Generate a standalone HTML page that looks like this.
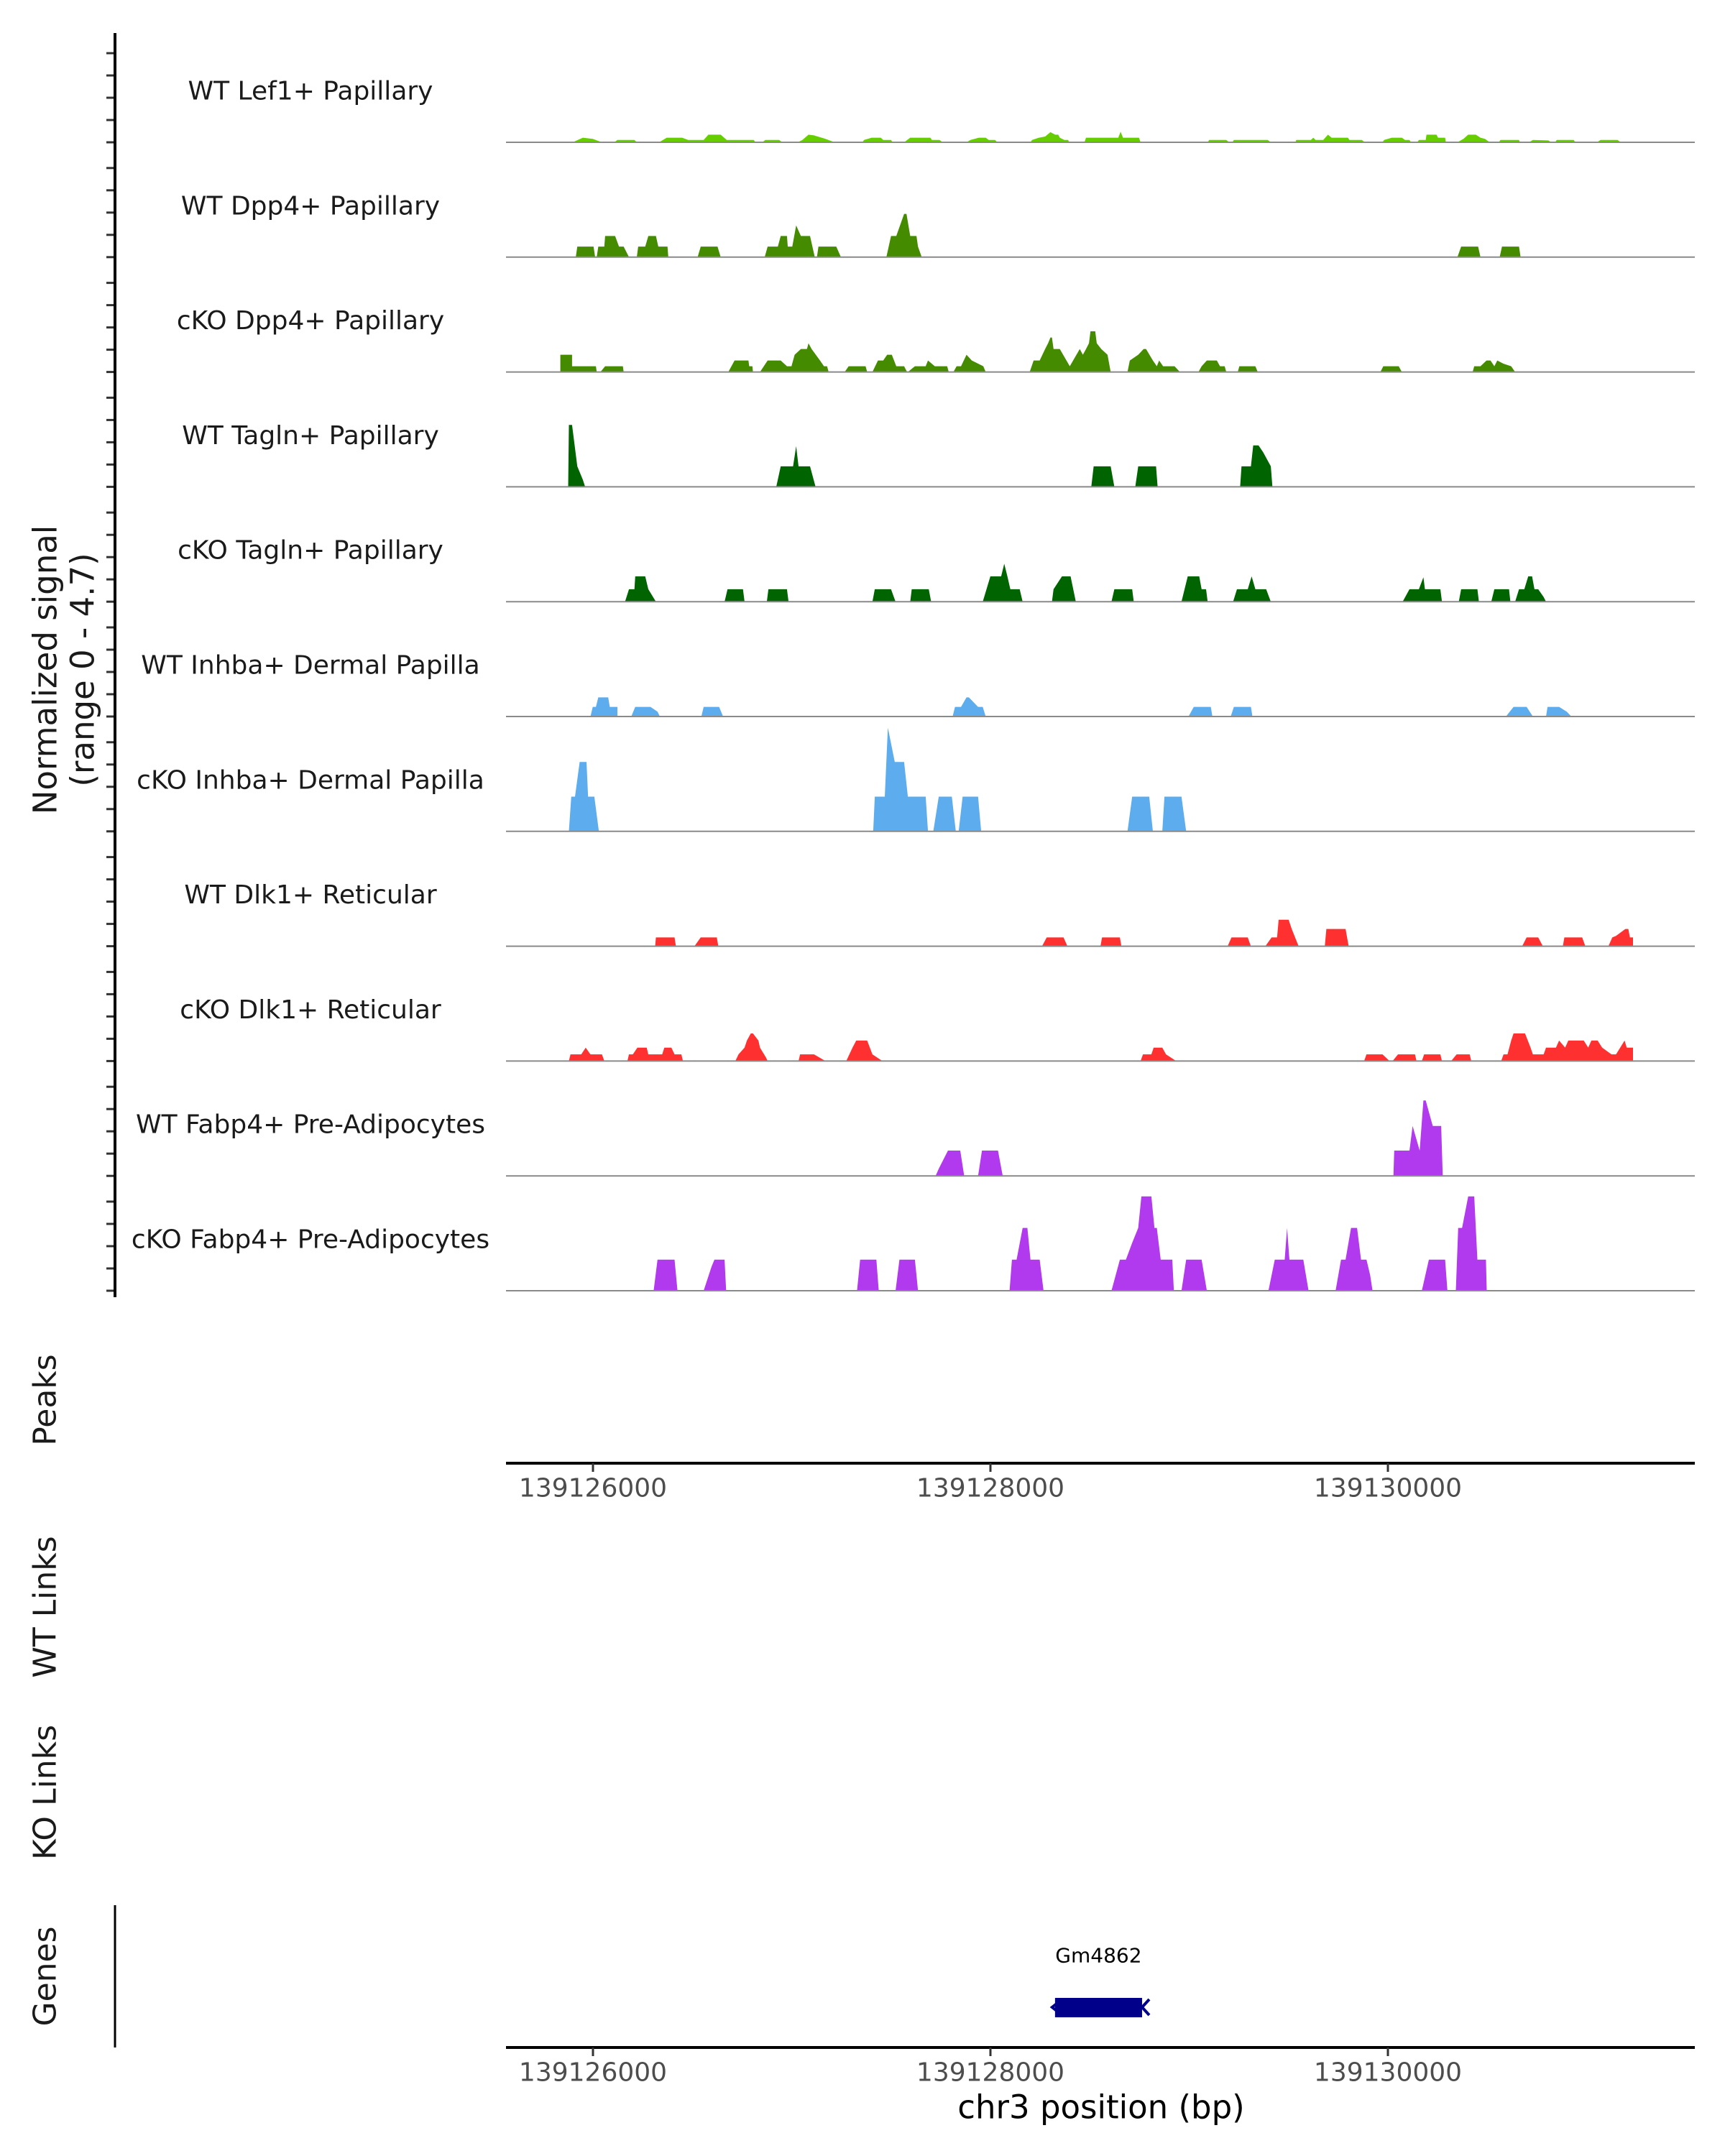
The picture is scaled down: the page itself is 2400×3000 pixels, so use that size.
<!DOCTYPE html>
<html><head><meta charset="utf-8"><style>
html,body{margin:0;padding:0;background:#fff;}
svg{display:block;font-family:"DejaVu Sans","Liberation Sans",sans-serif;}
</style></head><body>
<svg id="chart" width="2400" height="3000" viewBox="0 0 2400 3000" xmlns="http://www.w3.org/2000/svg">
<g id="tracks"></g>
<g id="axes"></g>
<text transform="translate(63,932) rotate(-90)" text-anchor="middle" dominant-baseline="central" font-size="45" fill="#1a1a1a">Normalized signal</text>
<text transform="translate(115,932) rotate(-90)" text-anchor="middle" dominant-baseline="central" font-size="45" fill="#1a1a1a">(range 0 - 4.7)</text>
<text transform="translate(63,1948) rotate(-90)" text-anchor="middle" dominant-baseline="central" font-size="44" fill="#1a1a1a">Peaks</text>
<text transform="translate(63,2236) rotate(-90)" text-anchor="middle" dominant-baseline="central" font-size="44" fill="#1a1a1a">WT Links</text>
<text transform="translate(63,2494) rotate(-90)" text-anchor="middle" dominant-baseline="central" font-size="44" fill="#1a1a1a">KO Links</text>
<text transform="translate(63,2750) rotate(-90)" text-anchor="middle" dominant-baseline="central" font-size="44" fill="#1a1a1a">Genes</text>
<text x="1532" y="2932" text-anchor="middle" dominant-baseline="central" font-size="45" fill="#000">chr3 position (bp)</text>
</svg>
<script>
const trackNames = ["WT Lef1+ Papillary","WT Dpp4+ Papillary","cKO Dpp4+ Papillary","WT Tagln+ Papillary","cKO Tagln+ Papillary","WT Inhba+ Dermal Papilla","cKO Inhba+ Dermal Papilla","WT Dlk1+ Reticular","cKO Dlk1+ Reticular","WT Fabp4+ Pre-Adipocytes","cKO Fabp4+ Pre-Adipocytes"];
const trackColors = ["#66CD00","#458B00","#458B00","#006400","#006400","#5CACEE","#5CACEE","#FF3030","#FF3030","#B23AEE","#B23AEE"];
const xTicks = [139126000,139128000,139130000];
const xTickLabels = ["139126000","139128000","139130000"];
const geneName = "Gm4862";
const geneStart = 139128325;
const geneEnd = 139128763;

const t1Pos=[139125898,139125950,139126001,139126048,139126111,139126127,139126214,139126226,139126340,139126379,139126458,139126489,139126568,139126592,139126655,139126686,139126824,139126832,139126868,139126883,139126954,139126970,139127049,139127073,139127104,139127132,139127191,139127238,139127380,139127388,139127427,139127474,139127486,139127526,139127534,139127593,139127624,139127727,139127735,139127774,139127790,139127912,139127932,139127975,139128010,139128026,139128058,139128069,139128239,139128247,139128282,139128314,139128341,139128365,139128381,139128389,139128412,139128432,139128436,139128515,139128523,139128688,139128700,139128712,139128794,139128802,139129145,139129153,139129240,139129255,139129271,139129279,139129452,139129468,139129594,139129598,139129673,139129685,139129697,139129736,139129760,139129779,139129862,139129870,139129933,139129949,139130039,139130047,139130087,139130138,139130154,139130177,139130185,139130217,139130225,139130260,139130264,139130315,139130323,139130359,139130363,139130422,139130453,139130477,139130516,139130540,139130563,139130587,139130634,139130642,139130737,139130741,139130788,139130808,139130887,139130902,139130922,139130930,139131017,139131024,139131135,139131154,139131241,139131257];
const t1Val=[0,.2,.15,0,0,.1,.1,0,0,.2,.2,.1,.1,.33,.33,.1,.1,0,0,.1,.1,0,0,.1,.33,.3,.15,0,0,.1,.2,.2,.1,.1,0,0,.2,.2,.1,.1,0,0,.1,.2,.2,.1,.1,0,0,.1,.2,.25,.44,.33,.33,.2,.1,.1,0,0,.2,.2,.46,.2,.2,0,0,.1,.1,0,0,.1,.1,0,0,.1,.1,.2,.1,.1,.33,.2,.2,.1,.1,0,0,.1,.2,.2,.1,.1,0,0,.1,.1,.33,.33,.2,.2,0,0,.15,.33,.33,.2,.15,0,0,.1,.1,0,0,.1,.08,0,0,.1,.1,0,0,.1,.1,0];

const t2Pos=[139125914,139125922,139126005,139126013,139126021,139126029,139126060,139126064,139126115,139126135,139126159,139126186,139126226,139126233,139126269,139126285,139126324,139126336,139126383,139126387,139126537,139126553,139126639,139126655,139126880,139126895,139126947,139126962,139126994,139126998,139127021,139127041,139127065,139127112,139127136,139127147,139127155,139127246,139127270,139127502,139127526,139127553,139127593,139127605,139127624,139127656,139127664,139127683,139130422,139130441,139130528,139130540,139130638,139130650,139130737,139130745];
const t2Val=[0,.46,.46,0,0,.46,.46,.92,.92,.46,.46,0,0,.46,.46,.92,.92,.46,.46,0,0,.46,.46,0,0,.46,.46,.92,.92,.46,.46,1.38,.92,.92,0,0,.46,.46,0,0,.92,.92,1.88,1.88,.92,.92,.46,0,0,.46,.46,0,0,.46,.46,0];

const t3Pos=[139125835,139125835,139125895,139125895,139126017,139126021,139126040,139126064,139126155,139126159,139126694,139126726,139126797,139126801,139126817,139126820,139126856,139126895,139126962,139126994,139127017,139127033,139127065,139127096,139127104,139127120,139127163,139127183,139127199,139127207,139127289,139127309,139127396,139127404,139127431,139127459,139127486,139127506,139127530,139127553,139127593,139127608,139127612,139127648,139127703,139127715,139127750,139127813,139127821,139127845,139127861,139127884,139127912,139127939,139127998,139128010,139128235,139128255,139128286,139128314,139128329,139128341,139128349,139128357,139128389,139128440,139128491,139128507,139128523,139128538,139128546,139128570,139128578,139128601,139128633,139128649,139128735,139128747,139128790,139128818,139128830,139128865,139128885,139128897,139128917,139128976,139129003,139129098,139129114,139129141,139129192,139129208,139129232,139129240,139129299,139129307,139129389,139129401,139130028,139130043,139130122,139130138,139130500,139130508,139130540,139130571,139130591,139130611,139130626,139130658,139130697,139130717];
const t3Val=[0,.75,.75,.25,.25,0,0,.25,.25,0,0,.5,.5,.25,.25,0,0,.5,.5,.25,.25,.75,1,1,1.25,1,.5,.25,.25,0,0,.25,.25,0,0,.5,.5,.75,.75,.25,.25,0,0,.25,.25,.5,.25,.25,0,0,.25,.25,.75,.5,.25,0,0,.5,.5,1,1.25,1.5,1.5,1,1,.25,1,.75,1,1.25,1.77,1.77,1.25,1,.75,0,0,.5,.75,1,1,.5,.25,.5,.25,.25,0,0,.25,.5,.5,.25,.25,0,0,.25,.25,0,0,.25,.25,0,0,.25,.25,.5,.5,.25,.5,.36,.25,0];

const t4Pos=[139125875,139125879,139125895,139125922,139125950,139125962,139126939,139126962,139127025,139127041,139127053,139127112,139127140,139128550,139128562,139128649,139128668,139128775,139128790,139128881,139128889,139129311,139129318,139129366,139129378,139129405,139129429,139129468,139129476];
const t4Val=[0,2.69,2.69,.89,.31,0,0,.89,.89,1.77,.89,.89,0,0,.89,.89,0,0,.89,.89,0,0,.89,.89,1.8,1.8,1.5,.89,0];

const t5Pos=[139126166,139126186,139126214,139126218,139126269,139126285,139126324,139126675,139126690,139126769,139126777,139126891,139126899,139126994,139127002,139127431,139127443,139127526,139127549,139127624,139127632,139127719,139127731,139127995,139128034,139128089,139128105,139128121,139128136,139128184,139128199,139128349,139128357,139128400,139128444,139128471,139128653,139128668,139128759,139128767,139129011,139129043,139129102,139129114,139129137,139129145,139129275,139129295,139129350,139129370,139129389,139129444,139129468,139130142,139130177,139130225,139130248,139130256,139130335,139130343,139130429,139130441,139130524,139130532,139130595,139130611,139130686,139130693,139130717,139130737,139130764,139130784,139130804,139130816,139130835,139130863,139130875];
const t5Val=[0,.54,.54,1.1,1.1,.54,0,0,.54,.54,0,0,.54,.54,0,0,.54,.54,0,0,.54,.54,0,0,1.1,1.1,1.65,1.1,.54,.54,0,0,.54,1.1,1.1,0,0,.54,.54,0,0,1.1,1.1,.54,.54,0,0,.54,.54,1.1,.54,.54,0,0,.54,.54,1.06,.54,.54,0,0,.54,.54,0,0,.54,.54,0,0,.54,.54,1.1,1.1,.54,.54,.2,0];

const t6Pos=[139125989,139126001,139126017,139126029,139126080,139126088,139126127,139126127,139126198,139126218,139126296,139126332,139126344,139126556,139126568,139126647,139126667,139127841,139127853,139127884,139127912,139127924,139127971,139127995,139128010,139129047,139129074,139129161,139129169,139129263,139129279,139129366,139129374,139130670,139130709,139130776,139130808,139130875,139130883,139130942,139130981,139131005];
const t6Val=[0,.42,.42,.83,.83,.42,.42,0,0,.42,.42,.21,0,0,.42,.42,0,0,.42,.42,.83,.83,.42,.42,0,0,.42,.42,0,0,.42,.42,0,0,.42,.42,0,0,.42,.42,.21,0];

const t7Pos=[139125879,139125891,139125910,139125934,139125969,139125977,139126009,139126032,139127435,139127443,139127494,139127510,139127545,139127593,139127612,139127703,139127715,139127742,139127770,139127837,139127857,139127872,139127892,139127971,139127987,139128735,139128759,139128846,139128865,139128913,139128924,139129011,139129035];
const t7Val=[0,1.51,1.51,3.02,3.02,1.51,1.51,0,0,1.51,1.51,4.51,3.02,3.02,1.51,1.51,0,0,1.51,1.51,0,0,1.51,1.51,0,0,1.51,1.51,0,0,1.51,1.51,0];

const t8Pos=[139126320,139126324,139126419,139126426,139126521,139126553,139126635,139126643,139128298,139128322,139128408,139128428,139128597,139128605,139128696,139128704,139129247,139129267,139129350,139129366,139129440,139129472,139129500,139129508,139129559,139129575,139129610,139129744,139129752,139129850,139129866,139130753,139130776,139130835,139130859,139130961,139130969,139131060,139131076,139131194,139131214,139131233,139131281,139131296,139131304,139131320,139131320];
const t8Val=[0,.38,.38,0,0,.38,.38,0,0,.38,.38,0,0,.38,.38,0,0,.38,.38,0,0,.38,.38,1.15,1.15,.75,0,0,.75,.75,0,0,.38,.38,0,0,.38,.38,0,0,.38,.45,.75,.75,.38,.38,0];

const t9Pos=[139125879,139125887,139125942,139125965,139125989,139126048,139126060,139126178,139126186,139126206,139126229,139126277,139126285,139126356,139126367,139126403,139126419,139126454,139126462,139126730,139126746,139126777,139126789,139126809,139126820,139126848,139126856,139126887,139126895,139127053,139127061,139127132,139127191,139127297,139127329,139127348,139127404,139127431,139127482,139128802,139128814,139128857,139128869,139128913,139128932,139128984,139129945,139129957,139130039,139130075,139130091,139130118,139130205,139130213,139130240,139130252,139130335,139130343,139130390,139130418,139130485,139130493,139130646,139130658,139130678,139130697,139130709,139130768,139130796,139130808,139130863,139130875,139130926,139130942,139130973,139130989,139131068,139131091,139131107,139131139,139131162,139131210,139131233,139131277,139131288,139131320,139131320];
const t9Val=[0,.29,.29,.58,.29,.29,0,0,.29,.29,.58,.58,.29,.29,.58,.58,.29,.29,0,0,.29,.58,.89,1.2,1.2,.89,.58,.15,0,0,.29,.29,0,0,.58,.89,.89,.29,0,0,.29,.29,.58,.58,.29,0,0,.29,.29,0,0,.29,.29,0,0,.29,.29,0,0,.29,.29,0,0,.29,.29,.89,1.2,1.2,.58,.29,.29,.58,.58,.89,.58,.89,.89,.58,.89,.89,.58,.29,.29,.89,.58,.58,0];

const t10Pos=[139127754,139127770,139127817,139127880,139127900,139127971,139127991,139128073,139128097,139130095,139130099,139130177,139130193,139130229,139130248,139130260,139130296,139130339,139130347];
const t10Val=[0,.31,1.1,1.1,0,0,1.1,1.1,0,0,1.1,1.1,2.17,1.1,3.28,3.28,2.17,2.17,0];

const t11Pos=[139126312,139126332,139126419,139126434,139126568,139126608,139126623,139126675,139126683,139127352,139127368,139127451,139127463,139127549,139127569,139127648,139127656,139127664,139128132,139128144,139128168,139128199,139128223,139128239,139128286,139128306,139128653,139128696,139128727,139128759,139128790,139128806,139128857,139128873,139128885,139128905,139128964,139128972,139129011,139129035,139129114,139129141,139129456,139129488,139129539,139129551,139129563,139129634,139129661,139129799,139129827,139129850,139129878,139129909,139129929,139129957,139129976,139129988,139130240,139130276,139130359,139130371,139130414,139130426,139130446,139130477,139130508,139130524,139130568,139130572];
const t11Val=[0,1.35,1.35,0,0,1.04,1.35,1.35,0,0,1.35,1.35,0,0,1.35,1.35,.68,0,0,1.35,1.35,2.73,2.73,1.35,1.35,0,0,1.35,1.35,2.08,2.73,4.1,4.1,2.73,2.73,1.35,1.35,0,0,1.35,1.35,0,0,1.35,1.35,2.73,1.35,1.35,0,0,1.35,1.35,2.73,2.73,1.35,1.35,.68,0,0,1.35,1.35,0,0,2.73,2.73,4.1,4.1,1.35,1.35,0];

const trackPos=[t1Pos,t2Pos,t3Pos,t4Pos,t5Pos,t6Pos,t7Pos,t8Pos,t9Pos,t10Pos,t11Pos];
const trackVal=[t1Val,t2Val,t3Val,t4Val,t5Val,t6Val,t7Val,t8Val,t9Val,t10Val,t11Val];

const NS="http://www.w3.org/2000/svg";
const plotLeft=704, plotRight=2358;
function xScale(bp){return 825+(bp-139126000)*0.2765;}
const markAnchor=139125880;
function xMark(bp){return xScale(markAnchor)+(bp-markAnchor)*0.2721;}
function trackBase(i){return 198+159.8*i;}
function yScale(i,v){return trackBase(i)-v*32;}
function mk(tag,attrs,parent){const e=document.createElementNS(NS,tag);for(const k in attrs)e.setAttribute(k,attrs[k]);parent.appendChild(e);return e;}

const tracks=document.getElementById('tracks');
const axes=document.getElementById('axes');

for(let i=0;i<trackNames.length;i++){
  const g=mk('g',{},tracks);
  
  
  const pos=trackPos[i], val=trackVal[i];
  let d='M'+xMark(pos[0]).toFixed(1)+','+trackBase(i);
  for(let k=0;k<pos.length;k++){d+=' L'+xMark(pos[k]).toFixed(1)+','+yScale(i,val[k]).toFixed(1);}
  d+=' L'+xMark(pos[pos.length-1]).toFixed(1)+','+trackBase(i)+' Z';
  const area=mk('path',{d:d,fill:trackColors[i],stroke:'none'},g);
  
  
  const bl=mk('line',{x1:plotLeft,x2:plotRight,y1:trackBase(i),y2:trackBase(i),stroke:'#8a8a8a','stroke-width':2},g);
  
  
  const lab=mk('text',{x:432,y:trackBase(i)-71,'text-anchor':'middle','dominant-baseline':'central','font-size':36,fill:'#1a1a1a'},g);
  lab.textContent=trackNames[i];
  
  
  for(let t=0;t<5;t++){
    const ty=trackBase(i)-124+31*t;
    const tk=mk('line',{x1:148,x2:160,y1:ty,y2:ty,stroke:'#333','stroke-width':3},axes);
    
    
  }
}
const yAxis=mk('line',{x1:160,x2:160,y1:46,y2:1805,stroke:'#000','stroke-width':4},axes);


const gAxis=mk('line',{x1:160,x2:160,y1:2651,y2:2849,stroke:'#000','stroke-width':3},axes);



[2036,2849].forEach(function(ay,ai){
  const al=mk('line',{x1:plotLeft,x2:plotRight,y1:ay,y2:ay,stroke:'#000','stroke-width':4},axes);
  
  
  for(let k=0;k<xTicks.length;k++){
    const tx=xScale(xTicks[k]);
    const tk=mk('line',{x1:tx,x2:tx,y1:ay,y2:ay+12,stroke:'#333','stroke-width':3},axes);
    
    
    const tl=mk('text',{x:tx,y:ay+35,'text-anchor':'middle','dominant-baseline':'central','font-size':36,fill:'#4d4d4d'},axes);
    tl.textContent=xTickLabels[k];
    
    
  }
});

const gx1=xScale(geneStart), gx2=xScale(geneEnd);
const gb=mk('rect',{x:gx1,y:2780,width:gx2-gx1,height:27,fill:'#00008B'},axes);


const ga=mk('path',{d:'M'+(gx2+10)+',2782 L'+(gx2)+',2793 L'+(gx2+10)+',2804',fill:'none',stroke:'#00008B','stroke-width':4},axes);


const ga2=mk('path',{d:'M'+(gx1+6)+',2785 L'+(gx1-4)+',2793 L'+(gx1+6)+',2801',fill:'none',stroke:'#00008B','stroke-width':4},axes);


const gl=mk('text',{x:(gx1+gx2)/2,y:2721,'text-anchor':'middle','dominant-baseline':'central','font-size':28,fill:'#000'},axes);
gl.textContent=geneName;


</script>
</body></html>
